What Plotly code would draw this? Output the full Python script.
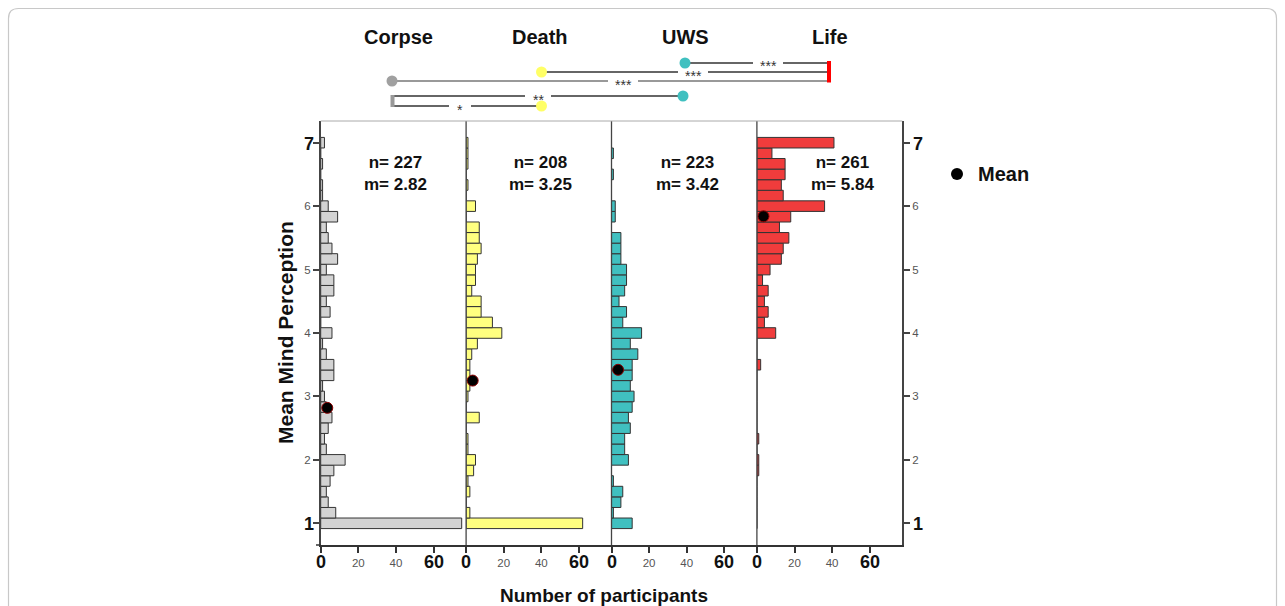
import plotly.graph_objects as go

# ---------------- data ----------------
groups = ["Corpse", "Death", "UWS", "Life"]
bins = [1.0, 1.167, 1.333, 1.5, 1.667, 1.833, 2.0, 2.167, 2.333, 2.5, 2.667, 2.833,
        3.0, 3.167, 3.333, 3.5, 3.667, 3.833, 4.0, 4.167, 4.333, 4.5, 4.667, 4.833,
        5.0, 5.167, 5.333, 5.5, 5.667, 5.833, 6.0, 6.167, 6.333, 6.5, 6.667, 6.833, 7.0]
corpse = [75, 8, 4, 3, 5, 7, 13, 3, 2, 4, 6, 3, 2, 1, 7, 7, 3, 1, 6, 0, 5, 3, 7, 7,
          3, 9, 6, 4, 3, 9, 4, 1, 1, 0, 1, 0, 2]
death = [62, 2, 0, 2, 1, 4, 5, 1, 1, 0, 7, 0, 1, 2, 2, 2, 3, 6, 19, 14, 8, 8, 3, 5,
         5, 6, 8, 7, 7, 0, 5, 0, 1, 0, 1, 1, 1]
uws = [11, 1, 5, 6, 1, 0, 9, 7, 7, 10, 9, 11, 12, 10, 11, 11, 14, 10, 16, 6, 8, 4, 7, 8,
       8, 5, 5, 5, 0, 2, 2, 0, 0, 1, 0, 1, 0]
life = [0, 0, 0, 0, 0, 1, 1, 0, 1, 0, 0, 0, 0, 0, 0, 2, 0, 0, 10, 4, 6, 4, 6, 3,
        7, 13, 14, 17, 12, 18, 36, 14, 13, 15, 15, 8, 41]
counts = [corpse, death, uws, life]
n_vals = [227, 208, 223, 261]
m_vals = [2.82, 3.25, 3.42, 5.84]
x_ticks = [0, 20, 40, 60]
y_ticks = [1, 2, 3, 4, 5, 6, 7]
# significance comparisons: (from group, to group, label)
comparisons = [("UWS", "Life", "***"), ("Death", "Life", "***"), ("Corpse", "Life", "***"),
               ("Corpse", "UWS", "**"), ("Corpse", "Death", "*")]

# ---------------- styling / geometry ----------------
W, H = 1285, 606
FONT = "Liberation Sans, Arial, sans-serif"
fills = ["#d3d3d3", "#ffff80", "#40c0c0", "#f03c3c"]
dot_cols = {"Corpse": "#a0a0a0", "Death": "#ffff66", "UWS": "#40c0c0", "Life": "#ff0000"}
L0, PW, TOP, BOT = 320.7, 145.4, 121, 545
PXU = 1.88
xr = [0, PW / PXU]
yr = [0.658, 7.342]
MEAN_DOT_X = 3.5


def X(p):
    return p / W


def Y(p):
    return 1 - p / H


fig = go.Figure()
for i, (g, c) in enumerate(zip(groups, counts)):
    xa = "x" if i == 0 else f"x{i + 1}"
    fig.add_trace(go.Bar(y=bins, x=c, orientation="h", width=1 / 6, name=g,
                         marker=dict(color=fills[i], line=dict(color="#333333", width=1)),
                         xaxis=xa, yaxis="y", showlegend=False))
for i, g in enumerate(groups):
    xa = "x" if i == 0 else f"x{i + 1}"
    ya = "y2" if i == 3 else "y"
    fig.add_trace(go.Scatter(x=[MEAN_DOT_X], y=[m_vals[i]], mode="markers", name="Mean",
                             marker=dict(color="black", size=11, line=dict(color="#8b0000", width=1)),
                             xaxis=xa, yaxis=ya, showlegend=False))

layout = dict(width=W, height=H, margin=dict(l=0, r=0, t=0, b=0),
              paper_bgcolor="white", plot_bgcolor="white",
              font=dict(family=FONT, color="#111"), showlegend=False)
for i in range(4):
    key = "xaxis" if i == 0 else f"xaxis{i + 1}"
    layout[key] = dict(domain=[X(L0 + i * PW), X(L0 + (i + 1) * PW)], range=xr, anchor="y",
                       tickvals=x_ticks, ticktext=["", "20", "40", ""], ticks="outside",
                       ticklen=6, tickwidth=1.5, tickcolor="#333", showline=True,
                       linecolor="#333", linewidth=1.5, showgrid=False, zeroline=False,
                       tickfont=dict(size=11.5, color="#555"))
ycommon = dict(domain=[Y(BOT), Y(TOP)], range=yr, tickvals=y_ticks,
               ticktext=["", "2", "3", "4", "5", "6", ""], ticks="outside", ticklen=6,
               tickwidth=1.5, tickcolor="#444", showline=True, linecolor="#444",
               linewidth=1.5, showgrid=False, zeroline=False,
               tickfont=dict(size=11.5, color="#555"))
layout["yaxis"] = dict(ycommon, anchor="x", side="left")
layout["yaxis2"] = dict(ycommon, anchor="x4", side="right", overlaying="y")
fig.update_layout(**layout)

shapes = []
# panel separators and top frame
for i in range(1, 4):
    xp = L0 + i * PW
    shapes.append(dict(type="line", xref="paper", yref="paper", x0=X(xp), x1=X(xp),
                       y0=Y(BOT), y1=Y(TOP), line=dict(color="#444", width=1.3)))
shapes.append(dict(type="line", xref="paper", yref="paper", x0=X(L0), x1=X(L0 + 4 * PW),
                   y0=Y(TOP), y1=Y(TOP), line=dict(color="#aaaaaa", width=1)))
shapes.append(dict(type="line", xref="paper", yref="paper", x0=X(316), x1=X(L0),
                   y0=Y(BOT), y1=Y(BOT), line=dict(color="#333", width=1.5)))
# outer card border
r = 10
path = (f"M {X(8.5)},{Y(620)} L {X(8.5)},{Y(8.5 + r)} Q {X(8.5)},{Y(8.5)} {X(8.5 + r)},{Y(8.5)} "
        f"L {X(1276.5 - r)},{Y(8.5)} Q {X(1276.5)},{Y(8.5)} {X(1276.5)},{Y(8.5 + r)} "
        f"L {X(1276.5)},{Y(620)}")
shapes.append(dict(type="path", xref="paper", yref="paper", path=path,
                   line=dict(color="#c8c8c8", width=1.2)))

# significance diagram
ends = {"Corpse": 392, "Death": 541.5, "UWS": 684, "Life": 828}
rows = [63, 72, 81, 96, 106]
star_x = [768, 693, 623, 538, 460]
line_cols = ["#333", "#333", "#999", "#333", "#333"]
line_w = [1.6, 1.6, 2, 1.6, 1.6]
ann = []
for (a, b, lab), yy, sx, lc, lw in zip(comparisons, rows, star_x, line_cols, line_w):
    gap = 9 + 2 * len(lab)
    for xa_, xb_ in ((ends[a], sx - gap), (sx + gap, ends[b])):
        shapes.append(dict(type="line", xref="paper", yref="paper", x0=X(xa_), x1=X(xb_),
                           y0=Y(yy), y1=Y(yy), line=dict(color=lc, width=lw)))
    ann.append(dict(xref="paper", yref="paper", x=X(sx), y=Y(yy), text=lab, showarrow=False,
                    xanchor="center", yanchor="middle", yshift=-3.5,
                    font=dict(size=14, color="#333")))


def circ(cx, cy, col, rad=5.5):
    return dict(type="circle", xref="paper", yref="paper", x0=X(cx - rad), x1=X(cx + rad),
                y0=Y(cy - rad), y1=Y(cy + rad), fillcolor=col, line=dict(color=col, width=0))


shapes.append(circ(ends["UWS"] + 1, rows[0], dot_cols["UWS"]))
shapes.append(circ(ends["Death"], rows[1], dot_cols["Death"]))
shapes.append(circ(ends["Corpse"], rows[2], dot_cols["Corpse"]))
shapes.append(circ(ends["UWS"] - 1, rows[3], dot_cols["UWS"]))
shapes.append(circ(ends["Death"], rows[4], dot_cols["Death"]))
shapes.append(dict(type="line", xref="paper", yref="paper", x0=X(ends["Life"] + 1), x1=X(ends["Life"] + 1),
                   y0=Y(rows[0] - 2), y1=Y(rows[2] + 1.5), line=dict(color="#ff0000", width=4)))
shapes.append(dict(type="line", xref="paper", yref="paper", x0=X(ends["Corpse"] + 0.5), x1=X(ends["Corpse"] + 0.5),
                   y0=Y(rows[3] - 1), y1=Y(rows[4] + 1), line=dict(color="#999", width=4)))

# legend
shapes.append(circ(957, 174, "black", 6))
ann.append(dict(xref="paper", yref="paper", x=X(976), y=Y(174), text="Mean", showarrow=False,
                xanchor="left", yanchor="middle", font=dict(size=20, weight="bold", color="#111")))

# group titles
title_x = [398, 540, 685, 830]
for g, tx in zip(groups, title_x):
    ann.append(dict(xref="paper", yref="paper", x=X(tx), y=Y(37), text=g, showarrow=False,
                    xanchor="center", yanchor="middle", font=dict(size=20, weight="bold", color="#111")))

# n / m labels
nm_off = [2, 2, 3, 13]
for i in range(4):
    cx = L0 + (i + 0.5) * PW + nm_off[i]
    ann.append(dict(xref="paper", yref="paper", x=X(cx), y=Y(173.5),
                    text=f"n= {n_vals[i]}<br>m= {m_vals[i]:.2f}", showarrow=False,
                    xanchor="center", yanchor="middle",
                    font=dict(size=17, weight="bold", color="#111")))

# big tick labels (0 and 60 on x; 1 and 7 on y)
for i in range(4):
    xa = "x" if i == 0 else f"x{i + 1}"
    for v in (x_ticks[0], x_ticks[-1]):
        ann.append(dict(xref=xa, yref="paper", x=v, y=Y(562), text=str(v), showarrow=False,
                        xanchor="center", yanchor="middle",
                        font=dict(size=18, weight="bold", color="#111")))
for v in (y_ticks[0], y_ticks[-1]):
    ann.append(dict(xref="paper", yref="y", x=X(315.5), y=v, text=str(v), showarrow=False,
                    xanchor="right", yanchor="middle", yshift=-1,
                    font=dict(size=18, weight="bold", color="#111")))
    ann.append(dict(xref="paper", yref="y", x=X(910.5), y=v, text=str(v), showarrow=False,
                    xanchor="left", yanchor="middle", yshift=-1,
                    font=dict(size=18, weight="bold", color="#111")))

# axis titles
ann.append(dict(xref="paper", yref="paper", x=X(285), y=Y(333), text="Mean Mind Perception",
                showarrow=False, textangle=-90, xanchor="center", yanchor="middle",
                font=dict(size=21, weight="bold", color="#111")))
ann.append(dict(xref="paper", yref="paper", x=X(604), y=Y(595), text="Number of participants",
                showarrow=False, xanchor="center", yanchor="middle",
                font=dict(size=19, weight="bold", color="#111")))

fig.update_layout(shapes=shapes, annotations=ann)
fig.write_html("out.html")
